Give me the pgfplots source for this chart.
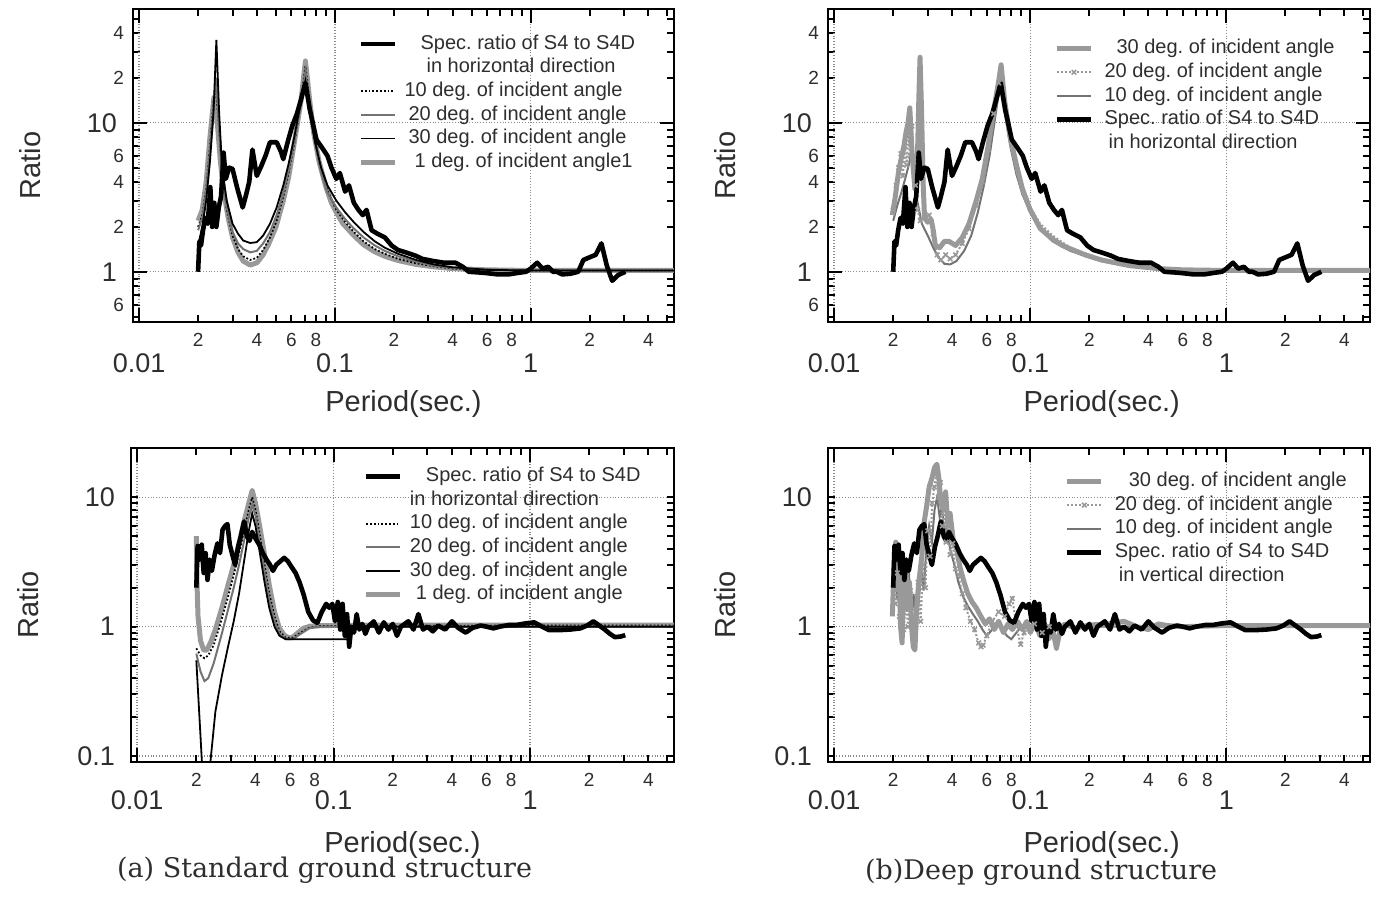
\documentclass[border=0pt]{standalone}
\usepackage{pgfplots}
\usepackage{pgfplotstable}
\pgfplotsset{compat=1.18}
\usepackage{fontspec}
\newfontfamily\axfont{Liberation Sans}
\newfontfamily\capfont{DejaVu Serif}
\definecolor{txt}{gray}{0.18}
\definecolor{lgr}{gray}{0.6}
\definecolor{mgr}{gray}{0.45}

% observed spectral ratio S4/S4D, horizontal
\pgfplotstableread{
x y
0.0200 1.0
0.0203 1.6
0.0207 1.5
0.0212 1.9
0.0218 2.3
0.0224 2.1
0.0231 3.7
0.0236 2.0
0.0242 2.9
0.0248 2.0
0.0255 2.7
0.0262 3.2
0.0270 6.3
0.0277 4.2
0.0288 5.0
0.0300 4.9
0.0316 3.7
0.0338 2.7
0.0350 3.2
0.0365 4.0
0.0379 6.6
0.0399 4.4
0.0420 5.1
0.0442 6.0
0.0466 7.4
0.0504 7.4
0.0530 6.4
0.0545 5.7
0.0575 7.5
0.0605 9.5
0.0640 11.5
0.0671 14.3
0.0707 18.5
0.0744 12.3
0.0805 7.7
0.0860 6.8
0.0916 6.0
0.0960 5.0
0.1017 4.2
0.1060 4.6
0.1128 3.45
0.1180 3.8
0.1250 2.9
0.1320 2.6
0.1388 2.4
0.1450 2.6
0.1540 1.9
0.1650 1.8
0.1800 1.7
0.1950 1.5
0.2100 1.4
0.2300 1.35
0.2590 1.28
0.2800 1.22
0.3190 1.18
0.3600 1.15
0.4130 1.15
0.4500 1.08
0.4830 1.0
0.5400 0.99
0.5940 0.98
0.6800 0.96
0.7710 0.96
0.8500 0.98
0.9490 1.0
1.0000 1.05
1.0800 1.15
1.1500 1.05
1.2300 1.08
1.3000 1.0
1.3600 1.0
1.4500 0.96
1.6000 0.97
1.7500 1.0
1.8600 1.2
2.0000 1.25
2.1500 1.3
2.3000 1.55
2.4500 1.1
2.6100 0.87
2.8000 0.95
3.0500 1.0
}\blackH

% observed spectral ratio S4/S4D, vertical
\pgfplotstableread{
x y
0.0200 2.0
0.0203 4.2
0.0208 3.3
0.0213 4.3
0.0218 2.6
0.0223 3.7
0.0228 2.3
0.0234 3.3
0.0240 2.7
0.0248 3.6
0.0256 4.4
0.0264 3.7
0.0272 5.6
0.0280 6.0
0.0288 6.2
0.0296 4.3
0.0305 3.6
0.0315 3.0
0.0326 4.1
0.0337 5.0
0.0350 6.5
0.0362 5.0
0.0373 4.6
0.0385 5.4
0.0400 4.8
0.0418 4.3
0.0436 3.7
0.0455 3.3
0.0475 3.0
0.0491 2.7
0.0510 3.0
0.0535 3.2
0.0560 3.4
0.0585 3.2
0.0610 2.9
0.0640 2.6
0.0671 2.2
0.0705 1.75
0.0743 1.3
0.0785 1.12
0.0826 1.07
0.0870 1.3
0.0916 1.5
0.0950 1.4
0.0985 1.5
0.1016 1.1
0.1050 1.55
0.1080 0.95
0.1110 1.5
0.1140 0.85
0.1170 1.25
0.1200 0.7
0.1230 1.0
0.1270 0.9
0.1310 1.25
0.1350 0.95
0.1400 1.05
0.1450 0.88
0.1500 1.0
0.1600 1.1
0.1700 0.9
0.1800 1.08
0.1900 0.95
0.2000 1.05
0.2100 0.85
0.2200 1.0
0.2400 1.1
0.2550 0.95
0.2700 1.25
0.2850 0.95
0.3000 1.0
0.3200 0.92
0.3400 1.02
0.3700 0.95
0.4000 1.1
0.4300 0.98
0.4700 0.9
0.5100 0.98
0.5600 1.02
0.6000 1.0
0.6500 0.97
0.7000 1.0
0.7800 1.03
0.8500 1.03
0.9500 1.06
1.0500 1.08
1.1500 1.0
1.2500 0.94
1.4000 0.94
1.6000 0.95
1.8000 0.97
1.9500 1.02
2.1000 1.1
2.2500 1.02
2.4000 0.95
2.5500 0.88
2.7000 0.83
2.9000 0.84
3.0500 0.86
}\blackV

\tikzset{
  specS/.style={black, line width=2.3pt, line join=round},
  grayS/.style={color=lgr, line width=2.5pt, line join=round},
  blkthin/.style={black, line width=0.9pt},
  graythin/.style={color=mgr, line width=1.0pt},
  dotS/.style={black, line width=0.9pt, densely dotted},
  xS/.style={color=lgr, line width=1.0pt, densely dotted, mark=x, mark size=1.6pt, mark options={solid, line width=0.8pt}},
}

\begin{document}
\frenchspacing
\begin{tikzpicture}
\path[use as bounding box] (0,0) rectangle (690.5pt,-448pt);

% ---------------- top left -----------------
\begin{axis}[at={(66.5pt,-4.5pt)}, anchor=north west,
    xmode=log, ymode=log, scale only axis,
    width=270.5pt, height=156.5pt,
    xmin=0.0093, xmax=5.4, ymin=0.46, ymax=58,
    axis line style={line width=1.3pt, black},
    tick style={black, line width=1.0pt},
    major tick length=3.5pt, minor tick length=3.5pt,
    xtick={0.02,0.04,0.06,0.08,0.2,0.4,0.6,0.8,2,4},
    xticklabels={2,4,6,8,2,4,6,8,2,4},
    minor xtick={0.03,0.05,0.07,0.09,0.3,0.5,0.7,0.9,3,5},
    extra x ticks={0.01,0.1,1},
    extra x tick labels={0.01,0.1,1},
    extra x tick style={major tick length=7pt, grid=major,
      xticklabel style={font=\axfont\fontsize{13.5}{15}\selectfont, yshift=-10pt}},
    ytick={0.6,2,4,6,20,40}, yticklabels={6,2,4,6,2,4},
    minor ytick={0.5,0.7,0.8,0.9,3,5,7,8,9,30,50},
    extra y ticks={1,10}, extra y tick labels={1,10},
    extra y tick style={major tick length=7pt, grid=major,
      yticklabel style={font=\axfont\fontsize{13.5}{15}\selectfont, xshift=-3.5pt}},
    xticklabel style={font=\axfont\fontsize{9.5}{11}\selectfont, text=txt, yshift=-2.2pt},
    yticklabel style={font=\axfont\fontsize{9.5}{11}\selectfont, text=txt, xshift=-1pt},
    major grid style={densely dotted, black!45, line width=0.7pt},
    xlabel={Period(sec.)}, ylabel={Ratio},
    xlabel style={font=\axfont\fontsize{14.5}{17}\selectfont, text=txt, at={(axis description cs:0.5,-0.262)}, anchor=center},
    ylabel style={font=\axfont\fontsize{14.5}{17}\selectfont, text=txt, at={(axis description cs:-0.19,0.5)}, anchor=center},
    legend style={draw=none, fill=none, anchor=north west, at={(0.416,0.922)},
      font=\axfont\fontsize{10}{12}\selectfont, text=txt,
      inner sep=0pt, row sep=1.6pt, column sep=3pt,
      nodes={inner sep=0.5pt, text height=7.2pt, text depth=2pt}},
    legend cell align=left]
\addlegendimage{specS}\addlegendentry{\hspace{8pt}Spec. ratio of S4 to S4D}
\addlegendimage{empty legend}\addlegendentry{\hspace{11pt}in horizontal direction}
\addlegendimage{dotS}\addlegendentry{10 deg. of incident angle}
\addlegendimage{graythin}\addlegendentry{\hspace{2pt}20 deg. of incident angle}
\addlegendimage{blkthin}\addlegendentry{\hspace{2pt}30 deg. of incident angle}
\addlegendimage{grayS}\addlegendentry{\hspace{5pt}1 deg. of incident angle1}
\addplot[grayS, forget plot] coordinates {
(0.0200,2.2)(0.0210,2.6)(0.0220,4.0)(0.0230,8.0)(0.0241,14.8)(0.0250,10.5)(0.0260,5.5)(0.0270,3.5)
(0.0285,2.3)(0.0300,1.7)(0.0320,1.35)(0.0340,1.18)(0.0369,1.11)(0.0400,1.15)(0.0430,1.3)(0.0460,1.55)
(0.0500,2.0)(0.0545,3.0)(0.0580,4.3)(0.0605,6.0)(0.0640,9.5)(0.0671,14.0)(0.0707,26.0)(0.0744,14.0)
(0.0780,8.5)(0.0830,5.5)(0.0900,3.7)(0.0960,2.9)(0.1017,2.5)(0.1100,2.1)(0.1250,1.75)(0.1400,1.52)
(0.1600,1.36)(0.1800,1.27)(0.2100,1.19)(0.2600,1.12)(0.3200,1.08)(0.4000,1.05)(0.5000,1.04)(0.6000,1.03)
(1.0000,1.02)(5.6000,1.02)};
\addplot[dotS, forget plot] coordinates {
(0.0200,2.0)(0.0210,2.4)(0.0220,3.6)(0.0230,7)(0.0240,14)(0.0246,17)(0.0255,10)(0.0265,4.8)(0.0280,2.6)
(0.0300,1.75)(0.0320,1.42)(0.0340,1.27)(0.0369,1.2)(0.0399,1.24)(0.0430,1.4)(0.0466,1.7)(0.0504,2.2)
(0.0545,3.2)(0.0580,4.6)(0.0620,7.2)(0.0660,12)(0.0707,24)(0.0744,13.5)(0.0790,7.8)(0.0850,4.8)
(0.0916,3.5)(0.1017,2.6)(0.1130,2.15)(0.1250,1.85)(0.1400,1.6)(0.1600,1.42)(0.1800,1.32)(0.2100,1.22)
(0.2600,1.14)(0.3200,1.09)(0.4000,1.05)(0.5000,1.04)(1.0,1.02)(5.6,1.02)};
\addplot[graythin, forget plot] coordinates {
(0.0200,1.9)(0.0210,2.3)(0.0220,3.4)(0.0230,6.5)(0.0240,13)(0.0247,20)(0.0255,10)(0.0265,4.6)(0.0280,2.7)
(0.0300,1.85)(0.0320,1.55)(0.0340,1.42)(0.0369,1.35)(0.0399,1.38)(0.0430,1.55)(0.0466,1.85)(0.0504,2.4)
(0.0545,3.4)(0.0580,4.8)(0.0620,7.5)(0.0660,12)(0.0707,22)(0.0744,13)(0.0790,7.5)(0.0850,4.6)
(0.0916,3.4)(0.1017,2.7)(0.1130,2.25)(0.1250,1.95)(0.1400,1.7)(0.1600,1.5)(0.1800,1.38)(0.2100,1.27)
(0.2600,1.17)(0.3200,1.1)(0.4000,1.06)(0.5000,1.04)(1.0,1.02)(5.6,1.02)};
\addplot[blkthin, forget plot] coordinates {
(0.0200,1.5)(0.0210,2.0)(0.0220,3.0)(0.0230,5.5)(0.0240,12.0)(0.0248,36.0)(0.0256,12.0)(0.0265,5.0)
(0.0280,3.0)(0.0300,2.1)(0.0320,1.8)(0.0340,1.62)(0.0369,1.56)(0.0399,1.58)(0.0430,1.75)(0.0466,2.1)
(0.0504,2.7)(0.0545,3.8)(0.0580,5.3)(0.0620,8.0)(0.0660,12.5)(0.0707,19.0)(0.0744,12.0)(0.0790,7.5)
(0.0850,5.0)(0.0916,3.8)(0.1017,3.0)(0.1130,2.5)(0.1250,2.15)(0.1400,1.85)(0.1600,1.6)(0.1800,1.45)
(0.2100,1.32)(0.2600,1.2)(0.3200,1.12)(0.4000,1.07)(0.5000,1.05)(0.6000,1.03)(1.0000,1.02)(5.6000,1.02)};
\addplot[specS, forget plot] table[x=x, y=y] {\blackH};
\end{axis}

% ---------------- top right -----------------
\begin{axis}[at={(414pt,-4.5pt)}, anchor=north west,
    xmode=log, ymode=log, scale only axis,
    width=271pt, height=156.5pt,
    xmin=0.0093, xmax=5.4, ymin=0.46, ymax=58,
    axis line style={line width=1.3pt, black},
    tick style={black, line width=1.0pt},
    major tick length=3.5pt, minor tick length=3.5pt,
    xtick={0.02,0.04,0.06,0.08,0.2,0.4,0.6,0.8,2,4},
    xticklabels={2,4,6,8,2,4,6,8,2,4},
    minor xtick={0.03,0.05,0.07,0.09,0.3,0.5,0.7,0.9,3,5},
    extra x ticks={0.01,0.1,1},
    extra x tick labels={0.01,0.1,1},
    extra x tick style={major tick length=7pt, grid=major,
      xticklabel style={font=\axfont\fontsize{13.5}{15}\selectfont, yshift=-10pt}},
    ytick={0.6,2,4,6,20,40}, yticklabels={6,2,4,6,2,4},
    minor ytick={0.5,0.7,0.8,0.9,3,5,7,8,9,30,50},
    extra y ticks={1,10}, extra y tick labels={1,10},
    extra y tick style={major tick length=7pt, grid=major,
      yticklabel style={font=\axfont\fontsize{13.5}{15}\selectfont, xshift=-3.5pt}},
    xticklabel style={font=\axfont\fontsize{9.5}{11}\selectfont, text=txt, yshift=-2.2pt},
    yticklabel style={font=\axfont\fontsize{9.5}{11}\selectfont, text=txt, xshift=-1pt},
    major grid style={densely dotted, black!45, line width=0.7pt},
    xlabel={Period(sec.)}, ylabel={Ratio},
    xlabel style={font=\axfont\fontsize{14.5}{17}\selectfont, text=txt, at={(axis description cs:0.505,-0.262)}, anchor=center},
    ylabel style={font=\axfont\fontsize{14.5}{17}\selectfont, text=txt, at={(axis description cs:-0.19,0.5)}, anchor=center},
    legend style={draw=none, fill=none, anchor=north west, at={(0.417,0.907)},
      font=\axfont\fontsize{10}{12}\selectfont, text=txt,
      inner sep=0pt, row sep=1.6pt, column sep=3pt,
      nodes={inner sep=0.5pt, text height=7.2pt, text depth=2pt}},
    legend cell align=left]
\addlegendimage{grayS}\addlegendentry{\hspace{8pt}30 deg. of incident angle}
\addlegendimage{xS}\addlegendentry{\hspace{2pt}20 deg. of incident angle}
\addlegendimage{graythin}\addlegendentry{\hspace{2pt}10 deg. of incident angle}
\addlegendimage{specS}\addlegendentry{\hspace{2pt}Spec. ratio of S4 to S4D}
\addlegendimage{empty legend}\addlegendentry{\hspace{4pt}in horizontal direction}
\addplot[graythin, forget plot] coordinates {
(0.0200,2.2)(0.0210,2.8)(0.0220,3.4)(0.0230,4.2)(0.0240,5.2)(0.0248,6.5)(0.0256,4.5)(0.0265,3.0)
(0.0280,2.1)(0.0300,1.75)(0.0320,1.45)(0.0340,1.25)(0.0365,1.13)(0.0390,1.12)(0.0420,1.18)(0.0460,1.38)
(0.0500,1.75)(0.0540,2.5)(0.0580,3.8)(0.0620,6.0)(0.0660,10.5)(0.0700,18.0)(0.0740,12.0)(0.0790,7.0)
(0.0850,4.5)(0.0912,3.3)(0.1000,2.5)(0.1124,1.95)(0.1300,1.6)(0.1600,1.38)(0.2000,1.25)(0.2600,1.15)
(0.3500,1.08)(0.5000,1.04)(1.0,1.02)(5.6,1.02)};
\addplot[xS, forget plot] coordinates {
(0.0200,2.6)(0.0207,3.8)(0.0213,5.0)(0.0219,6.2)(0.0224,4.4)(0.0229,7.0)(0.0234,5.2)(0.0239,8.5)
(0.0244,6.0)(0.0249,9.5)(0.0254,5.5)(0.0260,3.8)(0.0266,2.6)(0.0275,2.2)(0.0290,2.3)(0.0305,2.4)
(0.0320,1.8)(0.0335,1.3)(0.0350,1.2)(0.0370,1.3)(0.0390,1.22)(0.0416,1.3)(0.0450,1.55)(0.0487,1.95)
(0.0530,2.8)(0.0569,4.0)(0.0610,6.6)(0.0650,11.5)(0.0690,18.5)};
\addplot[xS, mark=none, forget plot] coordinates {
(0.0690,18.5)(0.0710,22.0)(0.0740,13.0)(0.0790,7.5)(0.0850,4.9)(0.0912,3.5)(0.1000,2.7)(0.1124,2.1)
(0.1300,1.75)(0.1600,1.45)(0.2000,1.3)(0.2600,1.17)(0.3500,1.1)(0.5000,1.05)(1.0,1.02)(5.6,1.02)};
\addplot[grayS, forget plot] coordinates {
(0.0198,2.4)(0.0205,3.2)(0.0212,4.5)(0.0218,5.5)(0.0225,6.5)(0.0232,8.5)(0.0238,10.0)(0.0243,12.6)
(0.0250,6.0)(0.0258,3.6)(0.0265,5.0)(0.0270,14.0)(0.0274,27.5)(0.0279,12.0)(0.0284,4.0)(0.0289,2.3)
(0.0300,2.15)(0.0312,2.25)(0.0320,1.9)(0.0328,1.5)(0.0345,1.45)(0.0365,1.6)(0.0385,1.6)(0.0416,1.5)
(0.0450,1.7)(0.0487,2.1)(0.0530,3.0)(0.0569,4.2)(0.0610,7.0)(0.0650,12.0)(0.0690,19.0)(0.0710,24.5)
(0.0740,14.0)(0.0790,8.0)(0.0850,5.2)(0.0912,3.6)(0.1000,2.6)(0.1124,1.95)(0.1300,1.65)(0.1460,1.5)
(0.1700,1.38)(0.1900,1.3)(0.2300,1.2)(0.3200,1.1)(0.4500,1.05)(0.6000,1.03)(1.0000,1.02)(5.6000,1.02)};
\addplot[specS, forget plot] table[x=x, y=y] {\blackH};
\end{axis}

% ---------------- bottom left -----------------
\begin{axis}[at={(65.5pt,-224pt)}, anchor=north west,
    xmode=log, ymode=log, scale only axis,
    width=271.5pt, height=157pt,
    xmin=0.0093, xmax=5.4, ymin=0.09, ymax=24,
    axis line style={line width=1.3pt, black},
    tick style={black, line width=1.0pt},
    major tick length=3.5pt, minor tick length=3.5pt,
    xtick={0.02,0.04,0.06,0.08,0.2,0.4,0.6,0.8,2,4},
    xticklabels={2,4,6,8,2,4,6,8,2,4},
    minor xtick={0.03,0.05,0.07,0.09,0.3,0.5,0.7,0.9,3,5},
    extra x ticks={0.01,0.1,1},
    extra x tick labels={0.01,0.1,1},
    extra x tick style={major tick length=7pt, grid=major,
      xticklabel style={font=\axfont\fontsize{13.5}{15}\selectfont, yshift=-9pt}},
    ytick={0.1,1,10}, yticklabels={0.1,1,10}, ymajorgrids=true,
    yticklabel style={font=\axfont\fontsize{13.5}{15}\selectfont, text=txt, xshift=-4.5pt},
    xticklabel style={font=\axfont\fontsize{9.5}{11}\selectfont, text=txt, yshift=-2pt},
    major grid style={densely dotted, black!45, line width=0.7pt},
    xlabel={Period(sec.)}, ylabel={Ratio},
    xlabel style={font=\axfont\fontsize{14.5}{17}\selectfont, text=txt, at={(axis description cs:0.5,-0.265)}, anchor=center},
    ylabel style={font=\axfont\fontsize{14.5}{17}\selectfont, text=txt, at={(axis description cs:-0.19,0.5)}, anchor=center},
    legend style={draw=none, fill=none, anchor=north west, at={(0.428,0.943)},
      font=\axfont\fontsize{10}{12}\selectfont, text=txt,
      inner sep=0pt, row sep=1.6pt, column sep=3pt,
      nodes={inner sep=0.5pt, text height=7.2pt, text depth=2pt}},
    legend cell align=left]
\addlegendimage{specS}\addlegendentry{\hspace{8pt}Spec. ratio of S4 to S4D}
\addlegendimage{empty legend}\addlegendentry{in horizontal direction}
\addlegendimage{dotS}\addlegendentry{10 deg. of incident angle}
\addlegendimage{graythin}\addlegendentry{20 deg. of incident angle}
\addlegendimage{blkthin}\addlegendentry{30 deg. of incident angle}
\addlegendimage{grayS}\addlegendentry{\hspace{3pt}1 deg. of incident angle}
\addplot[grayS, forget plot] coordinates {
(0.0200,5.0)(0.0201,2.5)(0.0204,1.2)(0.0210,0.78)(0.0218,0.66)(0.0226,0.66)(0.0236,0.75)(0.0250,0.95)
(0.0270,1.4)(0.0290,2.1)(0.0310,3.0)(0.0330,4.4)(0.0350,6.5)(0.0370,9.0)(0.0385,11.3)(0.0400,9.0)
(0.0420,6.0)(0.0445,3.6)(0.0470,2.1)(0.0500,1.3)(0.0530,0.97)(0.0560,0.86)(0.0590,0.82)(0.0620,0.83)
(0.0660,0.9)(0.0700,0.97)(0.0760,1.01)(0.0900,1.02)(0.2000,1.03)(1.0000,1.03)(5.6000,1.03)};
\addplot[dotS, forget plot] coordinates {
(0.0200,0.68)(0.0210,0.6)(0.0220,0.57)(0.0230,0.6)(0.0245,0.72)(0.0265,1.05)(0.0290,1.7)(0.0310,2.5)
(0.0330,3.7)(0.0350,5.5)(0.0370,8.0)(0.0385,10.0)(0.0400,8.0)(0.0420,5.2)(0.0445,3.0)(0.0470,1.8)
(0.0500,1.2)(0.0530,0.92)(0.0570,0.82)(0.0620,0.82)(0.0680,0.9)(0.0750,0.98)(0.0850,1.01)(1.0,1.02)(5.6,1.02)};
\addplot[graythin, forget plot] coordinates {
(0.0200,0.62)(0.0210,0.45)(0.0220,0.38)(0.0230,0.4)(0.0245,0.52)(0.0265,0.8)(0.0290,1.35)(0.0310,2.0)
(0.0330,3.0)(0.0350,4.6)(0.0370,7.0)(0.0385,8.8)(0.0400,7.2)(0.0420,4.5)(0.0445,2.6)(0.0470,1.6)
(0.0500,1.1)(0.0530,0.88)(0.0570,0.8)(0.0620,0.8)(0.0680,0.88)(0.0750,0.97)(0.0850,1.0)(1.0,1.0)(5.6,1.0)};
\addplot[blkthin, forget plot] coordinates {
(0.0200,0.55)(0.0214,0.085)(0.0235,0.085)(0.0250,0.22)(0.0270,0.42)(0.0290,0.7)(0.0310,1.1)(0.0330,1.8)
(0.0350,3.2)(0.0370,5.5)(0.0385,7.5)(0.0400,6.0)(0.0420,3.8)(0.0445,2.2)(0.0470,1.4)(0.0500,1.0)
(0.0530,0.85)(0.0570,0.8)(0.0600,0.8)(0.1180,0.8)(0.1200,1.0)(5.6000,1.0)};
\addplot[specS, forget plot] table[x=x, y=y] {\blackV};
\end{axis}

% ---------------- bottom right -----------------
\begin{axis}[at={(414pt,-224pt)}, anchor=north west,
    xmode=log, ymode=log, scale only axis,
    width=271pt, height=157pt,
    xmin=0.0093, xmax=5.4, ymin=0.09, ymax=24,
    axis line style={line width=1.3pt, black},
    tick style={black, line width=1.0pt},
    major tick length=3.5pt, minor tick length=3.5pt,
    xtick={0.02,0.04,0.06,0.08,0.2,0.4,0.6,0.8,2,4},
    xticklabels={2,4,6,8,2,4,6,8,2,4},
    minor xtick={0.03,0.05,0.07,0.09,0.3,0.5,0.7,0.9,3,5},
    extra x ticks={0.01,0.1,1},
    extra x tick labels={0.01,0.1,1},
    extra x tick style={major tick length=7pt, grid=major,
      xticklabel style={font=\axfont\fontsize{13.5}{15}\selectfont, yshift=-9pt}},
    ytick={0.1,1,10}, yticklabels={0.1,1,10}, ymajorgrids=true,
    yticklabel style={font=\axfont\fontsize{13.5}{15}\selectfont, text=txt, xshift=-4.5pt},
    xticklabel style={font=\axfont\fontsize{9.5}{11}\selectfont, text=txt, yshift=-2pt},
    major grid style={densely dotted, black!45, line width=0.7pt},
    xlabel={Period(sec.)}, ylabel={Ratio},
    xlabel style={font=\axfont\fontsize{14.5}{17}\selectfont, text=txt, at={(axis description cs:0.505,-0.265)}, anchor=center},
    ylabel style={font=\axfont\fontsize{14.5}{17}\selectfont, text=txt, at={(axis description cs:-0.19,0.5)}, anchor=center},
    legend style={draw=none, fill=none, anchor=north west, at={(0.436,0.927)},
      font=\axfont\fontsize{10}{12}\selectfont, text=txt,
      inner sep=0pt, row sep=1.6pt, column sep=3pt,
      nodes={inner sep=0.5pt, text height=7.2pt, text depth=2pt}},
    legend cell align=left]
\addlegendimage{grayS}\addlegendentry{\hspace{9pt}30 deg. of incident angle}
\addlegendimage{xS}\addlegendentry{\hspace{2pt}20 deg. of incident angle}
\addlegendimage{graythin}\addlegendentry{\hspace{2pt}10 deg. of incident angle}
\addlegendimage{specS}\addlegendentry{\hspace{2pt}Spec. ratio of S4 to S4D}
\addlegendimage{empty legend}\addlegendentry{\hspace{4pt}in vertical direction}
\addplot[graythin, forget plot] coordinates {
(0.0200,1.8)(0.0205,3.5)(0.0210,1.6)(0.0216,2.8)(0.0222,1.1)(0.0228,2.0)(0.0234,1.3)(0.0240,2.8)
(0.0247,1.2)(0.0254,1.8)(0.0262,0.9)(0.0270,1.6)(0.0278,2.8)(0.0286,1.9)(0.0295,4.0)(0.0305,6.0)
(0.0315,4.5)(0.0325,8.0)(0.0335,10.0)(0.0345,7.0)(0.0355,8.5)(0.0365,5.0)(0.0375,6.0)(0.0390,4.0)
(0.0410,3.0)(0.0430,2.2)(0.0455,1.7)(0.0480,1.45)(0.0510,1.25)(0.0540,1.1)(0.0570,0.95)(0.0600,0.85)
(0.0640,0.95)(0.0680,1.1)(0.0720,0.95)(0.0760,0.85)(0.0800,0.8)(0.0850,0.9)(0.0900,1.0)(0.1000,0.95)
(0.1100,1.05)(0.1300,0.95)(0.1500,1.0)(0.2000,1.0)(5.6,1.0)};
\addplot[xS, forget plot] coordinates {
(0.0205,1.5)(0.0210,2.6)(0.0215,1.2)(0.0220,2.0)(0.0226,0.95)(0.0232,1.6)(0.0238,1.0)(0.0245,1.9)
(0.0252,0.9)(0.0260,1.3)(0.0268,2.2)(0.0276,1.1)(0.0284,3.0)(0.0292,2.0)(0.0300,5.5)(0.0308,3.5)
(0.0316,9.0)(0.0324,12.0)(0.0332,15.0)(0.0340,10.0)(0.0348,13.0)(0.0356,6.0)(0.0364,9.0)(0.0372,4.5)
(0.0380,6.5)(0.0390,3.6)(0.0402,4.4)(0.0415,2.8)(0.0430,2.5)(0.0450,1.8)(0.0470,1.4)(0.0495,1.1)
(0.0520,0.95)(0.0545,0.75)(0.0561,0.7)(0.0575,0.72)(0.0600,0.85)(0.0640,1.1)(0.0690,1.3)(0.0740,1.2)
(0.0780,1.5)(0.0810,1.65)(0.0850,1.0)(0.0893,0.73)(0.0930,0.9)(0.0980,1.0)(0.1050,1.05)(0.1150,0.9)(0.1250,1.0)};
\addplot[xS, mark=none, forget plot] coordinates {(0.1250,1.0)(0.2000,1.0)(5.6,1.0)};
\addplot[grayS, forget plot] coordinates {
(0.0198,1.2)(0.0202,3.0)(0.0206,4.5)(0.0210,2.0)(0.0214,3.5)(0.0218,1.0)(0.0222,0.75)(0.0227,2.6)
(0.0232,3.2)(0.0237,1.4)(0.0242,2.2)(0.0248,1.0)(0.0253,0.7)(0.0258,0.66)(0.0264,1.5)(0.0271,2.3)
(0.0280,3.5)(0.0288,6.5)(0.0296,8.5)(0.0305,12.0)(0.0315,14.0)(0.0325,17.0)(0.0334,18.0)(0.0342,14.0)
(0.0350,9.0)(0.0360,8.0)(0.0370,11.0)(0.0380,6.0)(0.0390,7.5)(0.0405,4.6)(0.0420,4.0)(0.0440,2.8)
(0.0460,2.2)(0.0480,1.8)(0.0505,1.55)(0.0530,1.4)(0.0560,1.2)(0.0590,1.05)(0.0620,1.15)(0.0655,0.95)
(0.0690,1.1)(0.0730,0.9)(0.0770,1.05)(0.0810,0.95)(0.0860,1.1)(0.0910,0.95)(0.0960,1.1)(0.1000,0.9)
(0.1060,1.1)(0.1120,0.85)(0.1180,1.05)(0.1240,0.8)(0.1300,0.95)(0.1360,0.68)(0.1420,0.95)(0.1500,1.05)
(0.1700,0.97)(0.2000,1.03)(0.2500,1.05)(0.3000,1.1)(0.3500,1.0)(0.4000,0.95)(0.4500,1.05)(0.5000,1.02)
(0.6000,1.0)(1.0000,1.02)(5.6000,1.02)};
\addplot[specS, forget plot] table[x=x, y=y] {\blackV};
\end{axis}

\node[anchor=west, font=\capfont\fontsize{13.5}{16}\selectfont, text=txt] at (55pt,-435pt) {(a) Standard ground structure};
\node[anchor=west, font=\capfont\fontsize{13.5}{16}\selectfont, text=txt] at (429pt,-436pt) {(b)Deep ground structure};
\end{tikzpicture}
\end{document}
